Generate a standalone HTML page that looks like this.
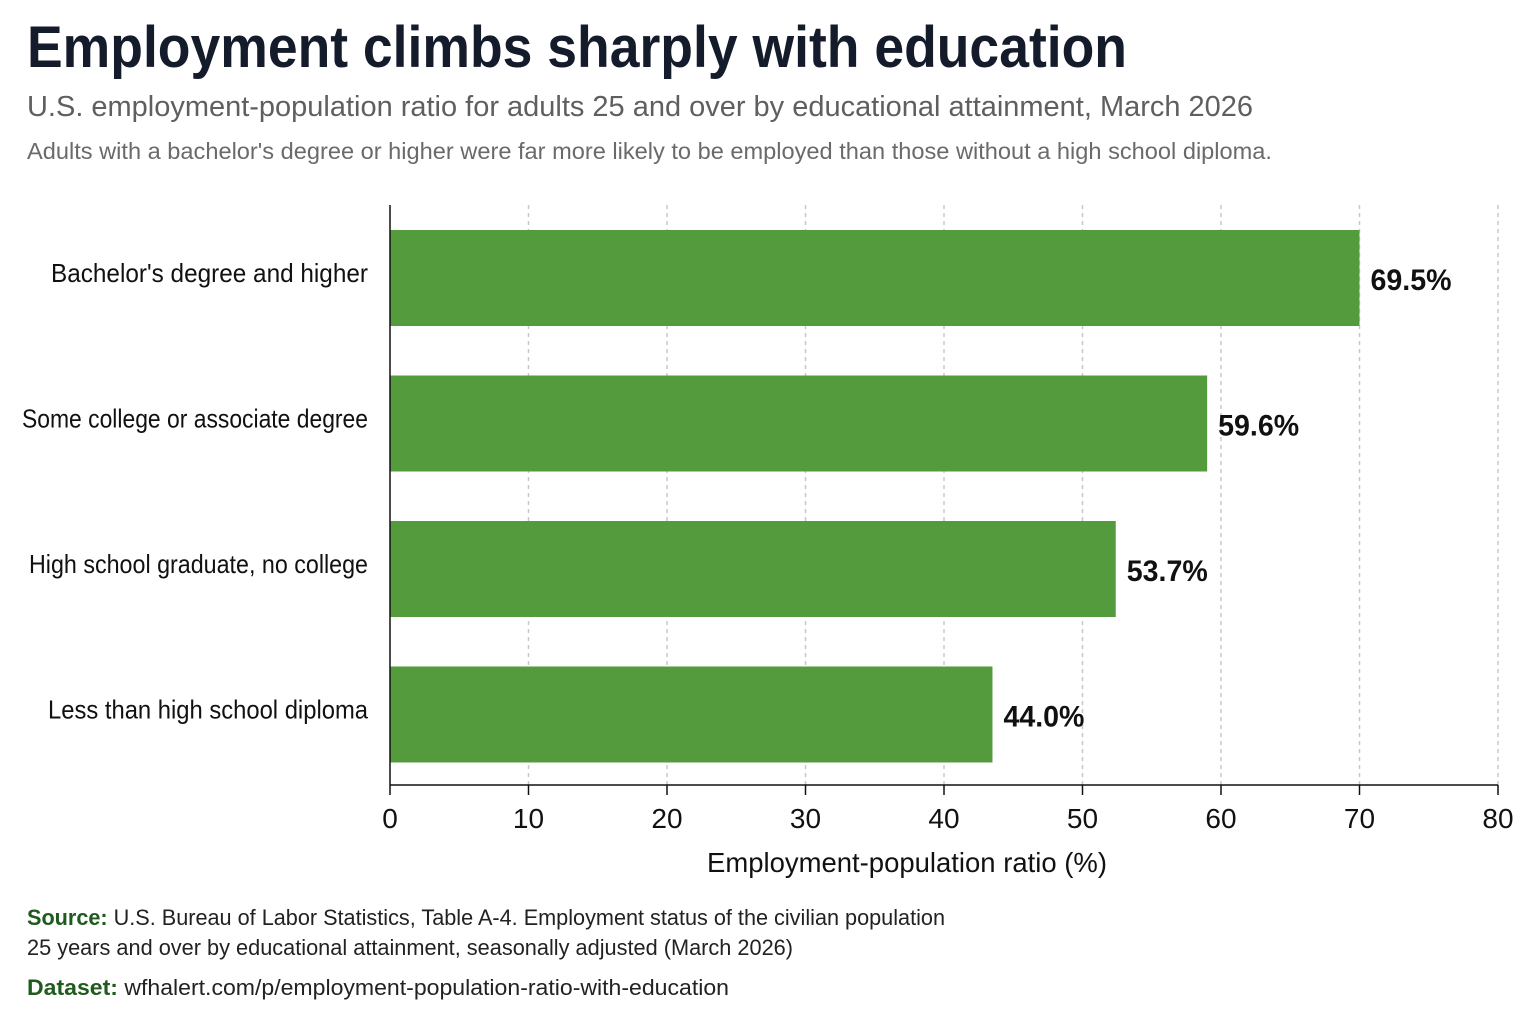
<!DOCTYPE html>
<html><head><meta charset="utf-8"><style>
html,body{margin:0;padding:0;background:#fff;}
svg{display:block;font-family:"Liberation Sans Narrow","Liberation Sans",sans-serif;}
</style></head><body>
<svg id="chart" width="1536" height="1024" viewBox="0 0 1536 1024" xmlns="http://www.w3.org/2000/svg">
<text x="27" y="67" font-size="58" font-weight="bold" fill="#141b2b" textLength="1100" lengthAdjust="spacingAndGlyphs">Employment climbs sharply with education</text>
<text x="27" y="116" font-size="29" fill="#5f5f5f" textLength="1226" lengthAdjust="spacingAndGlyphs">U.S. employment-population ratio for adults 25 and over by educational attainment, March 2026</text>
<text x="27" y="159" font-size="23" fill="#6a6a6a" textLength="1245" lengthAdjust="spacingAndGlyphs">Adults with a bachelor's degree or higher were far more likely to be employed than those without a high school diploma.</text>
<g id="grid"></g>
<g id="bars"></g>
<g id="axes"></g>
<text x="907" y="872" font-size="28" fill="#111" text-anchor="middle" textLength="400" lengthAdjust="spacingAndGlyphs">Employment-population ratio (%)</text>
<text x="27" y="925" font-size="22" fill="#222" textLength="918" lengthAdjust="spacingAndGlyphs"><tspan font-weight="bold" fill="#1f5a1f">Source:</tspan> U.S. Bureau of Labor Statistics, Table A-4. Employment status of the civilian population</text>
<text x="27" y="955" font-size="22" fill="#222" textLength="766" lengthAdjust="spacingAndGlyphs">25 years and over by educational attainment, seasonally adjusted (March 2026)</text>
<text x="27" y="995" font-size="22" fill="#222" textLength="702" lengthAdjust="spacingAndGlyphs"><tspan font-weight="bold" fill="#1f5a1f">Dataset:</tspan> wfhalert.com/p/employment-population-ratio-with-education</text>
</svg>
<script>
const categories = ["Bachelor's degree and higher","Some college or associate degree","High school graduate, no college","Less than high school diploma"];
const values = [70.0, 59.0, 52.4, 43.5];
const valueLabels = ["69.5%","59.6%","53.7%","44.0%"];
const ticks = [0,10,20,30,40,50,60,70,80];
const NS="http://www.w3.org/2000/svg";
const x0=390,x1=1498,xMax=80,plotTop=205,plotBottom=785;
const labelFit=[317,346,339,320];
const xs=v=>x0+(v/xMax)*(x1-x0);
const band=145.5, barH=96, firstY=230;
const ys=i=>firstY+i*band;
function mk(tag,attrs,parent){const e=document.createElementNS(NS,tag);for(const k in attrs)e.setAttribute(k,attrs[k]);parent.appendChild(e);return e;}
const grid=document.getElementById('grid'),bars=document.getElementById('bars'),axes=document.getElementById('axes');
ticks.forEach(t=>{
  if(t>0){const g=mk('line',{x1:xs(t),x2:xs(t),y1:plotTop,y2:plotBottom,stroke:'#c8c8c8','stroke-width':1.5,'stroke-dasharray':'4 4'},grid);
  
  }
  const tk=mk('line',{x1:xs(t),x2:xs(t),y1:plotBottom,y2:plotBottom+10,stroke:'#111','stroke-width':1.5},axes);
  
  
  const tl=mk('text',{x:xs(t),y:plotBottom+43,'font-size':28,fill:'#111','text-anchor':'middle'},axes);
  tl.textContent=t;
  
  
});
categories.forEach((c,i)=>{
  const y=ys(i);
  const r=mk('rect',{x:x0,y:y,width:xs(values[i])-x0,height:barH,fill:'#539b3d'},bars);
  
  
  const cl=mk('text',{x:368,y:y+barH/2+4,'font-size':26,fill:'#111','text-anchor':'end',textLength:labelFit[i],lengthAdjust:'spacingAndGlyphs'},bars);
  cl.textContent=c;
  
  
  const vl=mk('text',{x:xs(values[i])+11,y:y+barH/2+12,'font-size':30,'font-weight':'bold',fill:'#111',textLength:81,lengthAdjust:'spacingAndGlyphs'},bars);
  vl.textContent=valueLabels[i];
  
  
});
const ya=mk('line',{x1:x0,x2:x0,y1:plotTop,y2:plotBottom,stroke:'#111','stroke-width':1.5},axes);


const xa=mk('line',{x1:x0,x2:x1,y1:plotBottom,y2:plotBottom,stroke:'#111','stroke-width':1.5},axes);


</script>
</body></html>
